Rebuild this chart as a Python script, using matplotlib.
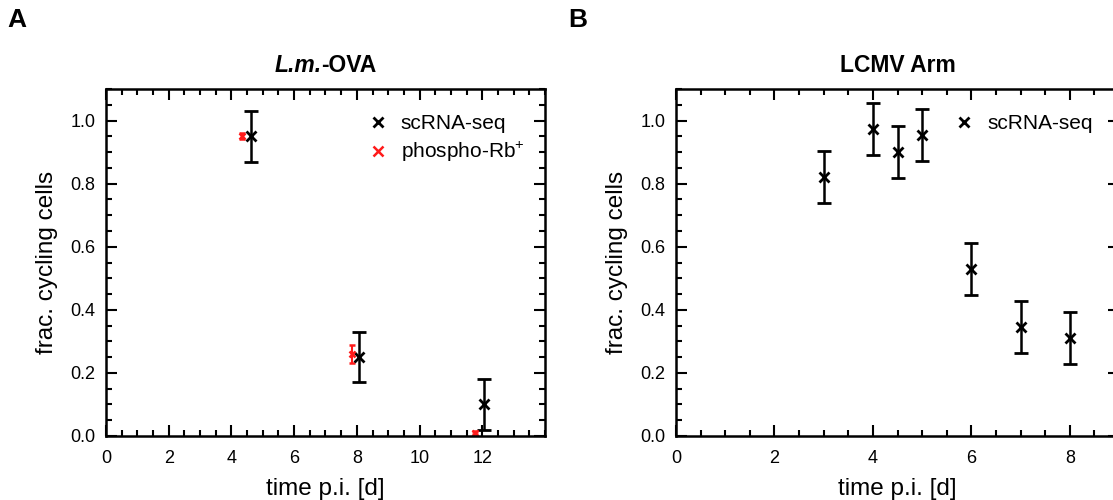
import matplotlib.pyplot as plt
from matplotlib.ticker import MultipleLocator
from matplotlib.offsetbox import TextArea, HPacker, AnchoredOffsetbox

plt.rcParams['font.family'] = ['Liberation Sans', 'DejaVu Sans']
plt.rcParams['mathtext.fontset'] = 'custom'
plt.rcParams['mathtext.rm'] = 'Liberation Sans'
plt.rcParams['mathtext.it'] = 'Liberation Sans:italic'
plt.rcParams['mathtext.bf'] = 'Liberation Sans:bold'

# panel A: L.m.-OVA
lm_sc_t = [4.63, 8.07, 12.05]
lm_sc_y = [0.95, 0.25, 0.10]
lm_sc_err = [0.08, 0.08, 0.08]
lm_rb_t = [4.33, 7.85, 11.78]
lm_rb_y = [0.95, 0.26, 0.01]
lm_rb_err = [0.01, 0.028, 0.005]

# panel B: LCMV Arm
lc_t = [3, 4, 4.5, 5, 6, 7, 8]
lc_y = [0.822, 0.973, 0.900, 0.955, 0.529, 0.345, 0.310]
lc_err = [0.082, 0.082, 0.082, 0.082, 0.082, 0.082, 0.082]

fig = plt.figure(figsize=(11.13, 5.0), dpi=100)
axA = fig.add_axes([0.0952, 0.128, 0.3945, 0.694])
axB = fig.add_axes([0.6074, 0.128, 0.398, 0.694])


def style(ax, xmax):
    ax.set_xlim(0, xmax)
    ax.set_ylim(0, 1.1)
    ax.xaxis.set_major_locator(MultipleLocator(2))
    ax.xaxis.set_minor_locator(MultipleLocator(0.5))
    ax.yaxis.set_major_locator(MultipleLocator(0.2))
    ax.yaxis.set_minor_locator(MultipleLocator(0.05))
    ax.tick_params(which='both', direction='in', top=True, right=True,
                   width=1.5, labelsize=13, pad=7.5)
    ax.tick_params(axis='x', which='both', pad=10)
    ax.tick_params(which='major', length=8)
    ax.tick_params(which='minor', length=4)
    for s in ax.spines.values():
        s.set_linewidth(1.8)
    ax.set_xlabel('time p.i. [d]', fontsize=17.5, labelpad=8)
    ax.set_ylabel('frac. cycling cells', fontsize=17.5, labelpad=9)


eb = dict(fmt='x', ms=7, mew=2, elinewidth=1.8, capthick=1.8, linestyle='none')
legkw = dict(frameon=False, fontsize=15, handlelength=0.8, handletextpad=0.7,
             borderaxespad=0.8, labelspacing=0.35)

axA.errorbar(lm_sc_t, lm_sc_y, yerr=lm_sc_err, color='black', capsize=5,
             label='scRNA-seq', **eb)
axA.errorbar(lm_rb_t, lm_rb_y, yerr=lm_rb_err, color='#ff1a1a', capsize=2.5,
             label='phospho-Rb$^{+}$', fmt='x', ms=4, mew=1.8,
             elinewidth=1.5, capthick=1.5, linestyle='none')
style(axA, 14)
axA.set_xticks([0, 2, 4, 6, 8, 10, 12])

# title with bold italic L.m.
tp = dict(fontsize=16.5, fontweight='bold')
title = HPacker(children=[TextArea('L.m.', textprops=dict(fontstyle='italic', **tp)),
                          TextArea('-OVA', textprops=tp)],
                align='baseline', pad=0, sep=0)
axA.add_artist(AnchoredOffsetbox(loc='lower center', child=title, pad=0,
                                 borderpad=0, frameon=False,
                                 bbox_to_anchor=(0.5, 1.035),
                                 bbox_transform=axA.transAxes))

h, l = axA.get_legend_handles_labels()
legA = axA.legend([x[0] for x in h], l, loc='upper right',
                  bbox_to_anchor=(1.01, 1.0), **legkw)
legA.legend_handles[1].set_markersize(7)

axB.errorbar(lc_t, lc_y, yerr=lc_err, color='black', capsize=5,
             label='scRNA-seq', **eb)
style(axB, 9)
axB.set_title('LCMV Arm', fontsize=16.5, fontweight='bold', pad=12)
h, l = axB.get_legend_handles_labels()
axB.legend([x[0] for x in h], l, loc='upper right',
           bbox_to_anchor=(0.997, 1.0), **legkw)

fig.text(0.007, 0.946, 'A', fontsize=19, fontweight='bold', va='baseline')
fig.text(0.511, 0.946, 'B', fontsize=19, fontweight='bold', va='baseline')

fig.savefig('out.png', dpi=100)
